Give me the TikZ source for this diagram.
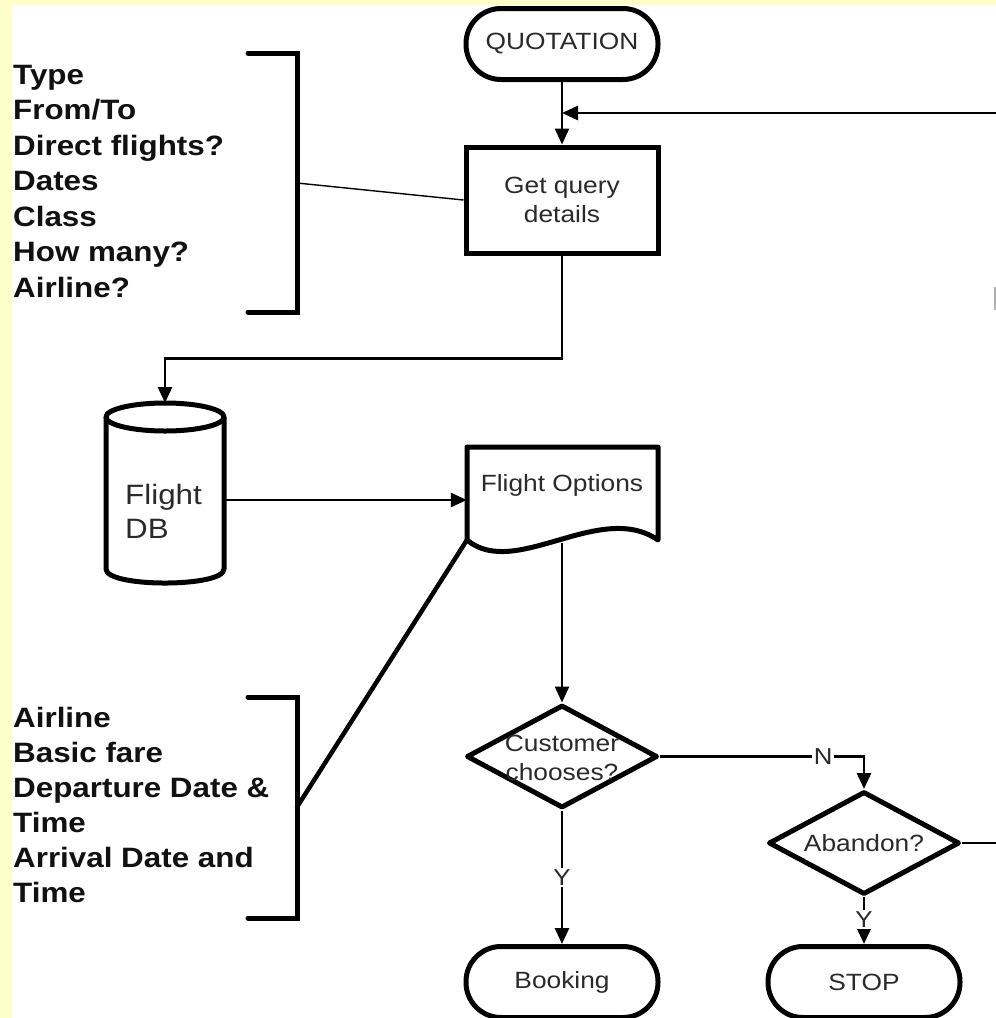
\documentclass[tikz,border=0pt]{standalone}
\usepackage{fontspec}
\setmainfont[FakeStretch=1.12]{Liberation Sans}
\usetikzlibrary{shapes.geometric, arrows.meta, calc}
\definecolor{bgyellow}{HTML}{FFFFCC}
\definecolor{txtgrey}{HTML}{2A2A2A}
\definecolor{txtdark}{HTML}{111111}
\newcommand\fcFlow{\fontsize{23.5}{29}\selectfont}
\newcommand\fcDB{\fontsize{28}{34}\selectfont}
\newcommand\fcSide{\fontsize{28}{35}\selectfont\bfseries}
\newcommand\fcLbl{\fontsize{23}{24}\selectfont}
\tikzset{
  shapeline/.style={line width=5pt, line join=round},
  term/.style={draw, shapeline, rounded corners=35pt, minimum width=192pt, minimum height=71pt, inner sep=0pt, font=\fcFlow, text=txtgrey},
  procbox/.style={draw, line width=5pt, minimum width=192pt, minimum height=106pt, inner sep=0pt, align=center, font=\fcFlow, text=txtgrey},
  dia/.style={draw, diamond, shapeline, aspect=1.85, minimum width=191pt, minimum height=103pt, inner sep=0pt},
  flowtext/.style={font=\fcFlow, text=txtgrey, align=center, inner sep=0pt},
  conn/.style={line width=2.7pt, -{Triangle[length=16pt,width=14pt]}},
  plainconn/.style={line width=2.7pt},
  lbl/.style={fill=white, font=\fcLbl, text=txtgrey, inner sep=1.5pt},
  side/.style={anchor=base west, font=\fcSide, text=txtdark, inner sep=0pt},
  brk/.style={line width=5pt, line cap=round, line join=miter}
}
\begin{document}
\begin{tikzpicture}[x=1pt,y=-1pt]
\useasboundingbox (0,0) rectangle (996,1018);
\fill[bgyellow] (0,0) rectangle (996,1018);
\fill[white] (12,5) rectangle (996,1018);
\begin{scope}
\clip (12,5) rectangle (996,1018);

% main column
\node[term] (quot) at (562,44) {QUOTATION};
\node[procbox] (gq) at (562,200) {Get query\\details};

% database cylinder
\node[minimum width=118pt, minimum height=180pt, inner sep=0pt] (db) at (165,493) {};
\coordinate (dbtop) at (165,403);
\coordinate (dbout) at (224,500);
\draw[shapeline] (106,417) -- (106,569) .. controls (106,587.7) and (224,587.7) .. (224,569) -- (224,417);
\draw[shapeline] (165,417) ellipse [x radius=59, y radius=14];
\node[anchor=west, align=left, font=\fcDB, text=txtgrey, inner sep=0pt] (dbtxt) at (125,511) {Flight\\DB};

% document
\node[minimum width=191pt, minimum height=93pt, inner sep=0pt] (fo) at (562.5,493.5) {};
\draw[shapeline] (467,540) -- (467,447) -- (658,447) -- (658,540) .. controls (600,500) and (515,580) .. (467,540) -- cycle;
\node[flowtext] (fotxt) at (562,485) {Flight Options};
\coordinate (fobot) at (562,543);

% decisions
\node[dia] (cc) at (562,756.5) {};
\node[flowtext] (cctxt) at (562,757.5) {Customer\\chooses?};
\node[dia] (ab) at (864,843) {};
\node[flowtext] (abtxt) at (864,843) {Abandon?};

% terminals
\node[term] (book) at (562,982) {Booking};
\node[term] (stop) at (864,982) {STOP};

% connectors
\draw[conn] (quot.south) -- (gq.north);
\coordinate (fbR) at (997,113);
\draw[conn] (fbR) -- (fbR -| gq.north);
\draw[conn] (gq.south) -- ++(0,103) -| (dbtop);
\draw[conn] (dbout) -- (dbout -| fo.west);
\draw[conn] (fobot) -- (cc.north);
\draw[conn] (cc.south) -- (book.north) node[lbl, pos=0.5] (ylbl1) {Y};
\draw[conn] (cc.east) -| (ab.north) node[lbl, pos=0.4] (nlbl) {N};
\draw[conn] (ab.south) -- (stop.north) node[lbl, pos=0.48] (ylbl2) {Y};
\coordinate (abR) at (997,843);
\draw[plainconn] (ab.east) -- (abR);

% brackets
\draw[brk] (248,53) -- (297,53) -- (297,312) -- (248,312);
\coordinate (b1) at (297,183);
\draw[line width=1.4pt] (b1) -- (gq.west);
\draw[brk] (248,697) -- (297,697) -- (297,918) -- (248,918);
\coordinate (b2) at (297,807);
\draw[line width=4.5pt, line cap=round] (b2) -- (fo.south west);

% side texts
\foreach \t [count=\i] in {Type, From/To, Direct flights?, Dates, Class, How many?, Airline?}
  \node[side] (ta\i) at (13, {48.5+35.5*\i}) {\t};
\foreach \t [count=\i] in {Airline, Basic fare, Departure Date \&, Time, Arrival Date and, Time}
  \node[side] (tb\i) at (13, {692+35*\i}) {\t};

% stray mark at right edge
\draw[gray!60, line width=1.5pt] (995,287) -- (995,310);
\end{scope}
\end{tikzpicture}
\end{document}
